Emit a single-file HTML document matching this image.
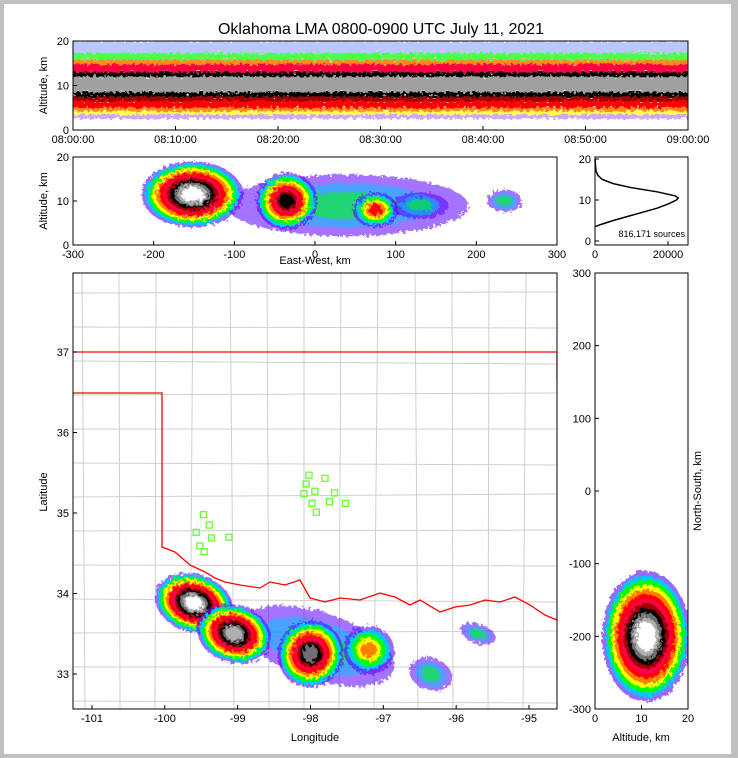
<!DOCTYPE html>
<html><head><meta charset="utf-8"><style>
html,body{margin:0;padding:0;background:#c0c0c0;}
#wrap{position:absolute;left:4px;top:4px;width:727px;height:750px;background:#fff;}
svg{position:absolute;left:0;top:0;}
text{font-family:"Liberation Sans",sans-serif;fill:#000;}
</style></head><body>
<div id="wrap"></div>
<svg id="s" width="738" height="758"></svg>
<script>
// ---- data ----
const histAlt=[3.5,4,5,6,7,8,9,10,10.5,11,12,13,14,15,16,17,18,19,20];
const histCount=[0,1500,5000,9000,13000,17000,20000,22300,22800,22000,17000,10000,5000,2000,800,300,150,80,0];
const bandLo=[2.5,3.5,4.2,5,6.5,7.5,8.5,12,13,14.8,15.8,17.3];
const bandHi=[3.5,4.2,5,6.5,7.5,8.5,12,13,14.8,15.8,17.3,20];
const bandColor=['#7f00ff','#ffff00','#ff8000','#ff0000','#a00000','#000000','#a0a0a0','#000000','#ff0040','#ff8000','#00ff00','#4060ff'];
const bandOpacity=[0.35,0.7,0.9,1,1,1,1,1,1,0.9,0.7,0.35];
// east-west clusters: x km, alt km, rx km, ry km, levels
const ewX=[40,235,-152,-35,75,130];
const ewAlt=[9,10,11.5,10,8,9];
const ewRx=[150,22,63,38,28,35];
const ewRy=[7,2.5,7.5,6.5,4,3];
const ewLev=[3,3,12,9,6,3];
// map clusters
const mapLon=[-97.9,-96.35,-95.7,-99.6,-99.05,-98.0,-97.2];
const mapLat=[33.35,33.0,33.5,33.88,33.5,33.25,33.3];
const mapRx=[1.1,0.3,0.25,0.55,0.52,0.45,0.35];
const mapRy=[0.42,0.2,0.12,0.36,0.36,0.42,0.3];
const mapLev=[3,3,3,12,11,10,5];
// north-south clusters
const nsAlt=[11];const nsNS=[-200];const nsRx=[9.5];const nsRy=[90];const nsLev=[12];
// stations
const stLon=[-98.02,-97.80,-98.06,-97.94,-98.09,-97.67,-97.98,-97.74,-97.52,-97.92,-99.47,-99.39,-99.57,-99.36,-99.12,-99.52,-99.46];
const stLat=[35.47,35.43,35.36,35.27,35.24,35.25,35.12,35.14,35.12,35.01,34.98,34.85,34.76,34.69,34.70,34.59,34.52];
const timeTicks=['08:00:00','08:10:00','08:20:00','08:30:00','08:40:00','08:50:00','09:00:00'];
const cmap=['#5a00ff','#00c8ff','#00ff00','#ffff00','#ff8000','#ff0000','#ff0050','#a00000','#000000','#707070','#b0b0b0','#ffffff'];

const S=document.getElementById('s');const NS='http://www.w3.org/2000/svg';
function el(t,a,p){const e=document.createElementNS(NS,t);for(const k in a)e.setAttribute(k,a[k]);(p||S).appendChild(e);return e;}
function txt(x,y,s,o,p){const e=el('text',Object.assign({x:x,y:y,'font-size':11},o||{}),p);e.textContent=s;return e;}
function lin(d0,d1,r0,r1){return v=>r0+(v-d0)/(d1-d0)*(r1-r0);}
let clipN=0;
function panel(x0,y0,x1,y1,name){const id='c'+(clipN++);const d=el('defs',{});const cp=el('clipPath',{id:id},d);el('rect',{x:x0,y:y0,width:x1-x0,height:y1-y0},cp);
 const g=el('g',{'clip-path':'url(#'+id+')'});return g;}
function frame(x0,y0,x1,y1,name){const r=el('rect',{x:x0,y:y0,width:x1-x0,height:y1-y0,fill:'none',stroke:'#000','stroke-width':1});}
function xtick(x,y,lab,name){el('line',{x1:x,x2:x,y1:y,y2:y-4,stroke:'#000'});const t=txt(x,y+13,lab,{'text-anchor':'middle'});}
function ytick(x,y,lab,name){el('line',{x1:x,x2:x+4,y1:y,y2:y,stroke:'#000'});const t=txt(x-4,y+4,lab,{'text-anchor':'end'});}
function blob(g,sx,sy,cx,cy,rx,ry,n,rot){const X=sx(cx),Y=sy(cy);for(let i=0;i<n;i++){const f=1-i/n*0.85;const e=el('ellipse',{cx:X,cy:Y,rx:Math.abs(sx(cx+rx*f)-X),ry:Math.abs(sy(cy+ry*f)-Y),fill:cmap[i],'fill-opacity':i<3&&n<=3?0.55:(i==0?0.6:1),filter:'url(#rough)',transform:'rotate('+(rot||0)+' '+X+' '+Y+')'},g);}}
const defs=el('defs',{});const fl=el('filter',{id:'rough',x:'-20%',y:'-20%',width:'140%',height:'140%'},defs);
el('feTurbulence',{type:'fractalNoise',baseFrequency:'0.3',numOctaves:'2',result:'n'},fl);
el('feDisplacementMap',{in:'SourceGraphic',in2:'n',scale:'8'},fl);

const ti=txt(381,34,'Oklahoma LMA 0800-0900 UTC July 11, 2021',{'text-anchor':'middle','font-size':16});

// ---- top time-height ----
{const x0=73,x1=688,y0=41,y1=130;const sy=lin(0,20,y1,y0);const g=panel(x0,y0,x1,y1,'time-height-panel');
 for(let i=0;i<bandLo.length;i++){const r=el('rect',{x:x0-5,y:sy(bandHi[i]),width:x1-x0+10,height:sy(bandLo[i])-sy(bandHi[i]),fill:bandColor[i],'fill-opacity':bandOpacity[i],filter:'url(#rough)'},g);}
 frame(x0,y0,x1,y1,'time-height-frame');
 const sx=lin(0,timeTicks.length-1,x0,x1);timeTicks.forEach((t,i)=>xtick(sx(i),y1,t,'time-tick'));
 [0,10,20].forEach(v=>ytick(x0,sy(v),v,'alt-tick'));
 const yl=txt(47,(y0+y1)/2,'Altitude, km',{'text-anchor':'middle',transform:'rotate(-90 47 '+(y0+y1)/2+')'});}

// ---- east-west ----
{const x0=73,x1=557,y0=157,y1=245;const sx=lin(-300,300,x0,x1),sy=lin(0,20,y1,y0);const g=panel(x0,y0,x1,y1,'east-west-panel');
 for(let i=0;i<ewX.length;i++)blob(g,sx,sy,ewX[i],ewAlt[i],ewRx[i],ewRy[i],ewLev[i],0);
 frame(x0,y0,x1,y1,'east-west-frame');
 [-300,-200,-100,0,100,200,300].forEach(v=>xtick(sx(v),y1,v,'ew-tick'));
 [0,10,20].forEach(v=>ytick(x0,sy(v),v,'alt-tick'));
 const xl=txt(315,264,'East-West, km',{'text-anchor':'middle'});
 const yl=txt(47,201,'Altitude, km',{'text-anchor':'middle',transform:'rotate(-90 47 201)'});}

// ---- histogram ----
{const x0=595,x1=688,y0=157,y1=245;const sx=lin(0,20000,x0,668),sy=lin(0,20,241,y0+2);
 let d='';histAlt.forEach((a,i)=>{d+=(i?'L':'M')+sx(histCount[i])+' '+sy(a);});
 const p=el('path',{d:d,fill:'none',stroke:'#000','stroke-width':1.5});
 frame(x0,y0,x1,y1,'histogram-frame');
 [0,20000].forEach(v=>xtick(sx(v),y1,v,'count-tick'));
 [0,10,20].forEach(v=>ytick(x0,sy(v),v,'alt-tick'));
 const t=txt(685,237,'816,171 sources',{'text-anchor':'end','font-size':9});}

// ---- map ----
{const x0=73,x1=557,y0=273,y1=709;const sx=lin(-101,-95,92,529),sy=lin(37,33,352,674);const g=panel(x0,y0,x1,y1,'map-panel');
 const cg=el('g',{stroke:'#cfcfcf','stroke-width':1,fill:'none'},g);
 for(let x=82;x<557;x+=37)el('line',{x1:x,x2:x+((x*7)%9-4),y1:273,y2:709},cg);
 for(let y=293;y<709;y+=34)el('line',{x1:73,x2:557,y1:y,y2:y+((y*5)%7-3)},cg);
 const ok=el('path',{d:'M73 352 L557 352 L557 380 M73 393 L162 393 L162 547 L175 552 L190 565 L205 572 L215 578 L225 582 L240 585 L260 588 L270 582 L285 585 L300 580 L310 598 L325 602 L340 598 L360 600 L380 593 L395 597 L410 605 L420 600 L440 612 L455 607 L470 605 L485 600 L500 602 L515 597 L530 605 L545 615 L557 620',fill:'none',stroke:'#ff0000','stroke-width':1.3},g);
 for(let i=0;i<mapLon.length;i++)blob(g,sx,sy,mapLon[i],mapLat[i],mapRx[i],mapRy[i],mapLev[i],18);
 for(let i=0;i<stLon.length;i++){const r=el('rect',{x:sx(stLon[i])-3,y:sy(stLat[i])-3,width:6,height:6,fill:'none',stroke:'#66ff33','stroke-width':1.3},g);}
 frame(x0,y0,x1,y1,'map-frame');
 [-101,-100,-99,-98,-97,-96,-95].forEach(v=>xtick(sx(v),y1,v,'longitude-tick'));
 [33,34,35,36,37].forEach(v=>ytick(x0,sy(v),v,'latitude-tick'));
 const xl=txt(315,741,'Longitude',{'text-anchor':'middle'});
 const yl=txt(47,492,'Latitude',{'text-anchor':'middle',transform:'rotate(-90 47 492)'});}

// ---- north-south ----
{const x0=595,x1=688,y0=273,y1=709;const sx=lin(0,20,x0,x1),sy=lin(-300,300,y1,y0);const g=panel(x0,y0,x1,y1,'north-south-panel');
 for(let i=0;i<nsAlt.length;i++)blob(g,sx,sy,nsAlt[i],nsNS[i],nsRx[i],nsRy[i],nsLev[i],0);
 frame(x0,y0,x1,y1,'north-south-frame');
 [0,10,20].forEach(v=>xtick(sx(v),y1,v,'alt-tick'));
 [-300,-200,-100,0,100,200,300].forEach(v=>ytick(x0,sy(v),v,'ns-tick'));
 const xl=txt(641,741,'Altitude, km',{'text-anchor':'middle'});
 const yl=txt(701,491,'North-South, km',{'text-anchor':'middle',transform:'rotate(-90 701 491)'});}
</script>
</body></html>
